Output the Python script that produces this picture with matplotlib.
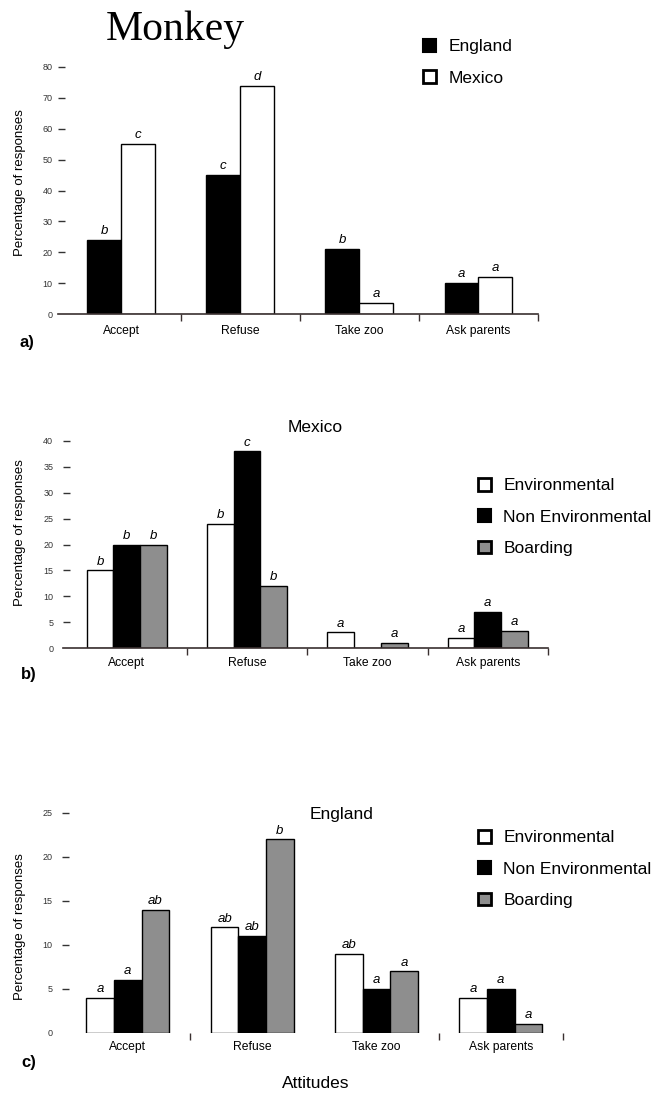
import matplotlib
matplotlib.use('Agg')
import matplotlib.pyplot as plt
from matplotlib.patches import Patch

plt.rcParams['font.family'] = ['Liberation Sans', 'DejaVu Sans']

# Data
cats = ['Accept', 'Refuse', 'Take zoo', 'Ask parents']

a_england = [24, 45, 21, 10]
a_mexico = [55, 74, 3.5, 12]
a_england_lab = ['b', 'c', 'b', 'a']
a_mexico_lab = ['c', 'd', 'a', 'a']

b_env = [15, 24, 3, 2]
b_nonenv = [20, 38, 0, 7]
b_board = [20, 12, 1, 3.3]
b_env_lab = ['b', 'b', 'a', 'a']
b_nonenv_lab = ['b', 'c', '', 'a']
b_board_lab = ['b', 'b', 'a', 'a']

c_env = [4, 12, 9, 4]
c_nonenv = [6, 11, 5, 5]
c_board = [14, 22, 7, 1]
c_env_lab = ['a', 'ab', 'ab', 'a']
c_nonenv_lab = ['a', 'ab', 'a', 'a']
c_board_lab = ['ab', 'b', 'a', 'a']

WHITE, BLACK, GREY = 'white', 'black', '#8e8e8e'
W, H = 656, 1095


def make_ax(fig, left, right, bottom, top):
    return fig.add_axes([left / W, 1 - bottom / H, (right - left) / W, (bottom - top) / H])


def bars(ax, vals, offset, width, color, labs):
    x = [i + offset for i in range(len(vals))]
    ax.bar(x, vals, width, color=color, edgecolor='black', linewidth=1.0, align='center')
    for xi, v, l in zip(x, vals, labs):
        if l:
            ax.annotate(l, (xi, v), xytext=(0, 2), textcoords='offset points',
                        ha='center', va='bottom', fontsize=9.5, style='italic')


def style(ax, ymax, ystep, xpad, ypad, spine=True, seps=(0.5, 1.5, 2.5, 3.5)):
    ax.set_xlim(-0.53, 3.5)
    ax.set_ylim(0, ymax)
    for s in ['top', 'right', 'left']:
        ax.spines[s].set_visible(False)
    ax.spines['bottom'].set_visible(spine)
    ax.spines['bottom'].set_color('#3a3030')
    ax.spines['bottom'].set_linewidth(1.2)
    ax.set_xticks(list(seps))
    ax.set_xticklabels([])
    ax.tick_params(axis='x', which='major', direction='out', length=5, width=1, color='#3a3030')
    ax.set_xticks(range(len(cats)), minor=True)
    ax.set_xticklabels(cats, minor=True, fontsize=8.7)
    ax.tick_params(axis='x', which='minor', length=0, pad=xpad)
    ax.set_yticks(range(0, ymax + 1, ystep))
    ax.tick_params(axis='y', direction='in', length=5, width=1, pad=ypad,
                   labelsize=6.5, colors='#333333')
    ax.yaxis.get_major_ticks()[0].tick1line.set_visible(False)
    ax.patch.set_visible(False)


def legend(fig, handles, labels, x, y):
    fig.legend(handles=handles, labels=labels, loc='upper left',
               bbox_to_anchor=(x / W, 1 - y / H), frameon=False, fontsize=12.5,
               handlelength=0.75, handleheight=0.75, handletextpad=0.7,
               labelspacing=0.92, borderpad=0, borderaxespad=0)


fig = plt.figure(figsize=(W / 100, H / 100), dpi=100)

# ---- a) Monkey ----
ax1 = make_ax(fig, 58, 538, 314, 67)
wa = 0.285
bars(ax1, a_england, -wa / 2, wa, BLACK, a_england_lab)
bars(ax1, a_mexico, wa / 2, wa, WHITE, a_mexico_lab)
style(ax1, 80, 10, 8, 4)
fig.text(175 / W, 1 - 30 / H, 'Monkey', family='Liberation Serif', fontsize=30,
         ha='center', va='center')
fig.text(20 / W, 1 - 183 / H, 'Percentage of responses', rotation=90, fontsize=9.5,
         ha='center', va='center')
fig.text(19 / W, 1 - 342 / H, 'a)', fontsize=12, fontweight='bold', va='center')
legend(fig, [Patch(facecolor=BLACK, edgecolor='black', linewidth=1.5),
             Patch(facecolor=WHITE, edgecolor='black', linewidth=2)],
       ['England', 'Mexico'], 423, 39)

# ---- b) Mexico ----
ax2 = make_ax(fig, 63, 548, 648, 441)
wb = 0.222
bars(ax2, b_env, -wb, wb, WHITE, b_env_lab)
bars(ax2, b_nonenv, 0, wb, BLACK, b_nonenv_lab)
bars(ax2, b_board, wb, wb, GREY, b_board_lab)
style(ax2, 40, 5, 6.5, 7)
fig.text(315 / W, 1 - 428 / H, 'Mexico', fontsize=12.5, ha='center', va='center')
fig.text(20 / W, 1 - 533 / H, 'Percentage of responses', rotation=90, fontsize=9.5,
         ha='center', va='center')
fig.text(21 / W, 1 - 675 / H, 'b)', fontsize=12, fontweight='bold', va='center')
group_handles = [Patch(facecolor=WHITE, edgecolor='black', linewidth=2),
                 Patch(facecolor=BLACK, edgecolor='black', linewidth=1.5),
                 Patch(facecolor=GREY, edgecolor='black', linewidth=2)]
group_labels = ['Environmental', 'Non Environmental', 'Boarding']
legend(fig, group_handles, group_labels, 478, 478)

# ---- c) England ----
ax3 = make_ax(fig, 62, 563, 1033, 813)
bars(ax3, c_env, -wb, wb, WHITE, c_env_lab)
bars(ax3, c_nonenv, 0, wb, BLACK, c_nonenv_lab)
bars(ax3, c_board, wb, wb, GREY, c_board_lab)
style(ax3, 25, 5, 6, 7, spine=False, seps=(0.5, 2.5, 3.5))
fig.text(342 / W, 1 - 814 / H, 'England', fontsize=12.5, ha='center', va='center')
fig.text(20 / W, 1 - 927 / H, 'Percentage of responses', rotation=90, fontsize=9.5,
         ha='center', va='center')
fig.text(21 / W, 1 - 1062 / H, 'c)', fontsize=12, fontweight='bold', va='center')
fig.text(316 / W, 1 - 1083 / H, 'Attitudes', fontsize=12.5, ha='center', va='center')
legend(fig, group_handles, group_labels, 478, 830)

fig.savefig('out.png', dpi=100)
